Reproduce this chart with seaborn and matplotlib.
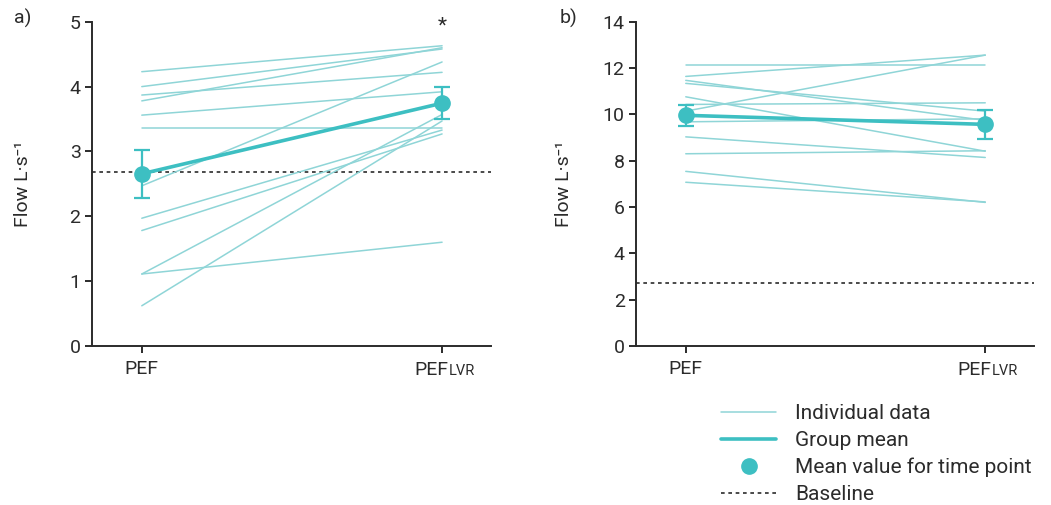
import numpy as np
import matplotlib
matplotlib.use("Agg")

import matplotlib.pyplot as plt
from matplotlib.lines import Line2D
import pandas as pd
import seaborn as sns


# Time points on the x axis
time_points = ["PEF", "PEFLVR"]

# a) individual subjects, flow (L/s) before and after LVR
a_pef = [4.23, 4.00, 3.87, 3.78, 3.56, 3.36, 2.47, 1.97, 1.78, 1.11, 1.11, 0.62]
a_pef_lvr = [4.63, 4.58, 4.22, 4.60, 3.92, 3.36, 4.38, 3.33, 3.27, 3.57, 1.60, 3.47]
a_err = [0.37, 0.25]
a_baseline = 2.68

# b) individual subjects
b_pef = [12.12, 11.64, 11.47, 11.34, 10.76, 10.43, 10.14, 9.68, 9.03, 8.30, 7.54, 7.07]
b_pef_lvr = [12.12, 12.56, 9.74, 10.14, 8.41, 10.50, 12.56, 9.81, 8.14, 8.43, 6.20, 6.22]
b_err = [0.46, 0.62]
b_baseline = 2.71

LIGHT = "#8fd5d7"
TEAL = "#3dbfc2"
INK = "#2b2b2b"


def to_long(before, after):
    # one row per subject per time point, so seaborn can draw each subject as a line
    n = len(before)
    return pd.DataFrame({
        "subject": list(range(n)) * 2,
        "time": [time_points[0]] * n + [time_points[1]] * n,
        "flow": list(before) + list(after),
    })


def draw_panel(ax, df, err, baseline, ymax, ystep):
    sns.lineplot(data=df, x="time", y="flow", units="subject", estimator=None,
                 color=LIGHT, lw=1.1, ax=ax, legend=False)
    means = df.groupby("time", sort=False)["flow"].mean()
    sns.lineplot(x=list(range(len(means))), y=means.values, color=TEAL, lw=2.6,
                 ax=ax, legend=False)
    ax.errorbar(range(len(means)), means.values, yerr=err, fmt="o", color=TEAL,
                ms=11, capsize=6, elinewidth=1.6, capthick=1.6, zorder=5)
    ax.axhline(baseline, color=INK, lw=1.2, ls=(0, (2.2, 2.2)), zorder=1)

    ax.set_xlim(-0.167, 1.163)
    ax.set_ylim(0, ymax)
    ax.set_yticks(np.arange(0, ymax + 0.1, ystep))
    ax.set_xticks([0, 1])
    ax.set_xticklabels(["PEF", ""])
    ax.annotate("PEF", xy=(1, 0), xycoords=("data", "axes fraction"),
                xytext=(4.7, -11), textcoords="offset points", ha="right",
                va="top", fontsize=14, color=INK)
    ax.annotate("LVR", xy=(1, 0), xycoords=("data", "axes fraction"),
                xytext=(4.7, -13.2), textcoords="offset points", ha="left",
                va="top", fontsize=10.5, color=INK)
    ax.set_xlabel("")
    ax.set_ylabel("Flow L·s⁻¹", fontsize=14, color=INK)
    ax.tick_params(axis="both", direction="out", length=5, width=1.4,
                   colors=INK, labelsize=14, pad=3, bottom=True, left=True)
    ax.tick_params(axis="x", pad=5)
    for side in ["top", "right"]:
        ax.spines[side].set_visible(False)
    for side in ["left", "bottom"]:
        ax.spines[side].set_color(INK)
        ax.spines[side].set_linewidth(1.4)
    ax.grid(False)


def main() -> None:
    sns.set_theme(style="white")
    plt.rcParams["font.family"] = ["Roboto", "DejaVu Sans"]

    fig = plt.figure(figsize=(10.51, 5.05), dpi=100)
    ax_a = fig.add_axes([0.0872, 0.3149, 0.380, 0.642])
    ax_b = fig.add_axes([0.6049, 0.3149, 0.379, 0.642])

    draw_panel(ax_a, to_long(a_pef, a_pef_lvr), a_err, a_baseline, 5, 1)
    draw_panel(ax_b, to_long(b_pef, b_pef_lvr), b_err, b_baseline, 14, 2)

    ax_a.yaxis.set_label_coords(-0.150, 0.5)
    ax_b.yaxis.set_label_coords(-0.157, 0.5)

    # significance marker above the post-LVR mean in panel a
    ax_a.text(1, 4.93, "*", ha="center", va="center", fontsize=15, color=INK)

    fig.text(0.013, 0.964, "a)", ha="left", va="center", fontsize=14, color=INK)
    fig.text(0.532, 0.964, "b)", ha="left", va="center", fontsize=14, color=INK)

    handles = [
        Line2D([], [], color=LIGHT, lw=1.1),
        Line2D([], [], color=TEAL, lw=2.6),
        Line2D([], [], color=TEAL, marker="o", ms=11, ls="none"),
        Line2D([], [], color=INK, lw=1.2, ls=(0, (2.2, 2.2))),
    ]
    labels = ["Individual data", "Group mean", "Mean value for time point", "Baseline"]
    fig.legend(handles, labels, loc="upper left", bbox_to_anchor=(0.686, 0.200),
               frameon=False, fontsize=15, handlelength=2.65, handletextpad=0.9,
               labelspacing=0.38, borderpad=0, borderaxespad=0,
               labelcolor=INK)

    fig.savefig("out.png", dpi=100)
    plt.close(fig)


if __name__ == "__main__":
    main()
